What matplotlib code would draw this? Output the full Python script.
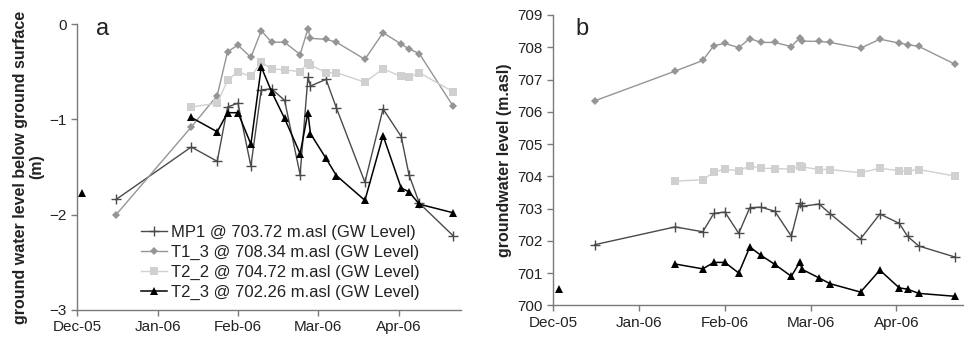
import numpy as np
import pandas as pd
import matplotlib
matplotlib.use("Agg")
import matplotlib.pyplot as plt
import matplotlib.dates as mdates

plt.rcParams['font.family'] = ['Liberation Sans', 'DejaVu Sans']

# sampling dates (Dec-05 .. Apr-06)
dates = pd.to_datetime([
    "2005-12-03", "2005-12-16", "2006-01-14", "2006-01-24", "2006-01-28",
    "2006-02-01", "2006-02-06", "2006-02-10", "2006-02-14", "2006-02-19",
    "2006-02-25", "2006-02-28", "2006-03-01", "2006-03-07", "2006-03-11",
    "2006-03-22", "2006-03-29", "2006-04-05", "2006-04-08", "2006-04-12",
    "2006-04-25",
])

nan = np.nan
# water level below ground surface (m)
mp1 = [nan, -1.84, -1.29, -1.44, -0.87, -0.83, -1.49, -0.69, -0.68, -0.80,
       -1.58, -0.56, -0.65, -0.58, -0.88, -1.66, -0.89, -1.18, -1.58, -1.88, -2.22]
t1_3 = [nan, -2.00, -1.08, -0.75, -0.29, -0.22, -0.35, -0.07, -0.19, -0.19,
        -0.32, -0.05, -0.15, -0.16, -0.19, -0.37, -0.09, -0.21, -0.26, -0.31, -0.86]
t2_2 = [nan, nan, -0.87, -0.83, -0.59, -0.50, -0.55, -0.40, -0.47, -0.48,
        -0.50, -0.41, -0.43, -0.51, -0.51, -0.61, -0.47, -0.55, -0.56, -0.51, -0.71]
t2_3 = [-1.77, nan, -0.98, -1.13, -0.93, -0.93, -1.26, -0.45, -0.71, -0.99,
        -1.36, -0.93, -1.15, -1.41, -1.59, -1.85, -1.17, -1.72, -1.76, -1.89, -1.98]

wells = ["MP1", "T1_3", "T2_2", "T2_3"]
elevations = [703.72, 708.34, 704.72, 702.26]
depths = [mp1, t1_3, t2_2, t2_3]

styles = [
    dict(color="#4a4a4a", marker="+", markersize=7, mew=1.0, lw=1.0),
    dict(color="#959595", marker="D", markersize=4.3, mew=0, lw=1.0),
    dict(color="#d0d0d0", marker="s", markersize=5.5, mew=0, lw=1.0),
    dict(color="#000000", marker="^", markersize=6, mew=0, lw=1.1),
]

# month ticks every 31 days from 1 Dec 2005
tick_dates = pd.date_range("2005-12-01", periods=5, freq="31D")
x_min = pd.Timestamp("2005-12-01")
x_max = pd.Timestamp("2006-04-28")

axis_col = "#7a7a7a"
text_col = "#222222"

fig = plt.figure(figsize=(9.66, 3.44), dpi=100)
ax1 = fig.add_axes([0.080, 0.099, 0.397, 0.831])
ax2 = fig.add_axes([0.5728, 0.1125, 0.424, 0.8439])


def style_axes(ax):
    for s in ("top", "right"):
        ax.spines[s].set_visible(False)
    for s in ("left", "bottom"):
        ax.spines[s].set_color(axis_col)
        ax.spines[s].set_linewidth(1.0)
    ax.set_xlim(x_min, x_max)
    ax.set_xticks(tick_dates)
    ax.xaxis.set_major_formatter(mdates.DateFormatter("%b-%y"))
    ax.tick_params(axis="both", colors=axis_col, labelcolor=text_col,
                   labelsize=11, length=4, width=1.0, direction="out")


# panel a: depth below ground surface
for name, elev, d, st in zip(wells, elevations, depths, styles):
    ax1.plot(dates, d, label=f"{name} @ {elev:.2f} m.asl (GW Level)", **st)
style_axes(ax1)
ax1.set_ylim(-3, 0)
ax1.set_yticks([-3, -2, -1, 0])
ax1.set_ylabel("ground water level below ground surface\n(m)", fontsize=11.5,
               fontweight="bold", color=text_col, labelpad=4, linespacing=1.1)
ax1.text(0.05, 0.962, "a", transform=ax1.transAxes, fontsize=17,
         color=text_col, va="baseline", ha="left")
ax1.legend(loc="lower left", bbox_to_anchor=(0.165, 0.035), frameon=False,
           fontsize=12, handlelength=1.6, handletextpad=0.2,
           labelspacing=0.3, borderpad=0, borderaxespad=0,
           labelcolor=text_col)

# panel b: absolute groundwater level
for elev, d, st in zip(elevations, depths, styles):
    ax2.plot(dates, elev + np.array(d), **st)
style_axes(ax2)
ax2.set_ylim(700, 709)
ax2.set_yticks(np.arange(700, 710, 1))
ax2.set_ylabel("groundwater level (m.asl)", fontsize=11.5, fontweight="bold",
               color=text_col, labelpad=4)
ax2.text(0.055, 0.931, "b", transform=ax2.transAxes, fontsize=17,
         color=text_col, va="baseline", ha="left")

fig.savefig("out.png", dpi=100)
